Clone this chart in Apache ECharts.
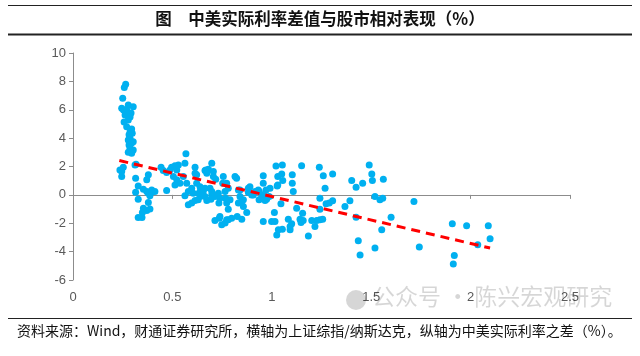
<!DOCTYPE html>
<html>
<head>
<meta charset="utf-8">
<script src="https://cdn.jsdelivr.net/npm/echarts@6/dist/echarts.min.js"></script>
<style>
html,body{margin:0;padding:0;background:#fff;}
#c{width:640px;height:356px;}
</style>
</head>
<body>
<div id="c"></div>
<script>
// Scatter data: x = 上证综指/纳斯达克, y = 中美实际利率之差（%）
var xVals = [
0.265,0.258,0.250,0.278,0.245,0.254,0.270,0.303,0.292,0.262,0.287,0.278,0.257,0.270,0.295,0.287,0.298,0.282,0.287,0.278,0.303,0.295,0.282,0.287,0.303,0.278,0.295,0.317,
0.236,0.245,0.253,0.245,0.312,0.315,0.328,0.379,0.371,0.315,0.354,0.371,0.379,0.396,0.412,0.395,0.387,0.328,0.379,0.354,0.371,0.387,0.349,0.328,0.347,0.443,0.454,0.471,0.471,
0.488,0.496,0.513,0.522,0.530,0.563,0.568,0.505,0.522,0.538,0.513,0.555,0.572,0.563,0.580,0.597,0.614,0.622,0.605,0.580,0.597,0.614,0.639,0.639,0.664,0.669,0.681,0.698,0.706,0.673,0.698,
0.714,0.736,0.748,0.765,0.773,0.756,0.753,0.765,0.781,0.790,0.815,0.823,0.798,0.826,0.849,0.840,0.849,0.857,0.874,0.882,0.890,0.899,0.937,
0.664,0.673,0.614,0.706,0.718,0.622,0.639,0.647,0.634,0.655,0.664,0.630,0.689,0.698,0.694,0.714,0.731,0.739,0.734,0.773,0.781,0.768,0.773,0.832,0.857,0.832,0.882,0.916,0.932,0.949,0.957,0.957,0.991,0.966,0.936,0.974,
1.021,1.053,1.030,1.050,1.030,1.103,1.103,0.739,0.781,0.957,0.999,1.016,1.013,1.033,1.053,1.025,1.046,1.083,1.100,1.092,
0.840,0.907,0.971,0.966,0.987,1.027,1.055,1.092,1.108,1.125,1.150,1.155,1.142,1.158,1.147,1.184,1.201,1.217,1.226,1.242,1.256,1.239,1.259,1.268,1.242,1.242,1.273,1.289,1.306,1.306,
1.368,1.393,1.402,1.424,1.424,1.457,1.435,1.444,1.490,1.503,1.506,1.561,1.519,1.544,1.558,1.519,1.600,1.553,1.715,1.742,1.908,1.980,1.918,1.913,2.036,2.089,2.098
];
var yVals = [
7.80,7.56,6.81,6.34,6.10,5.99,6.00,6.22,5.77,5.63,5.49,5.28,5.14,4.81,4.65,4.44,4.35,4.23,4.00,3.87,3.75,3.66,3.52,3.29,3.17,3.01,2.94,2.16,
1.76,1.64,1.95,1.29,2.11,1.18,0.63,1.41,1.06,0.19,0.40,0.23,0.12,0.35,0.23,0.19,-0.07,-0.30,-0.54,-0.94,-1.11,-1.00,-1.25,-1.60,-1.60,1.95,1.71,1.57,0.30,
1.76,1.95,2.06,1.76,2.11,2.23,2.89,1.29,1.06,0.82,0.70,1.29,0.82,-0.07,0.23,0.47,1.95,1.41,0.12,-0.70,-0.58,-0.40,-0.12,0.23,0.47,1.76,1.81,2.23,1.64,-0.40,0.00,
-1.81,-1.64,-2.11,-1.99,-1.76,1.29,0.82,0.23,-1.01,-0.35,1.29,1.18,-1.64,-1.53,-1.71,-0.12,-0.47,-0.82,-1.25,0.47,0.58,0.00,0.23,
1.71,1.53,1.53,1.29,1.11,0.82,0.58,0.35,0.12,0.23,-0.12,-0.35,0.47,0.23,-0.30,-0.12,0.12,-0.23,-0.58,0.82,0.47,-0.23,-0.58,0.35,-0.35,-0.58,0.16,0.23,0.35,0.00,1.34,0.82,0.47,-0.12,-0.35,-0.30,
2.04,2.11,1.29,1.48,0.70,1.41,0.82,-1.53,-1.76,-1.88,-1.88,-1.88,-1.25,-2.46,-2.42,-2.82,-0.63,-1.71,-2.04,-2.46,
0.35,0.00,0.35,-0.40,-0.12,0.63,1.01,-2.23,0.23,-0.94,2.06,-1.29,-1.71,-1.81,-1.95,-2.89,-1.81,-2.23,-1.81,-1.76,-1.71,1.95,1.34,0.47,-0.23,-1.01,-0.63,-0.58,-0.42,1.48,
-0.82,-0.42,1.01,0.54,-1.57,0.82,-3.24,-4.23,2.11,1.48,1.01,1.11,-0.12,-0.35,-0.23,-3.75,-1.57,-2.46,-0.47,-3.68,-2.04,-2.18,-4.27,-4.88,-3.52,-2.18,-3.10
];
// Linear trend line end points
var trendX = [0.233, 2.098];
var trendY = [2.42, -3.75];
// Axis ticks
var xTicks = [0, 0.5, 1, 1.5, 2, 2.5];
var yTicks = [-6, -4, -2, 0, 2, 4, 6, 8, 10];

var titleText = '图　中美实际利率差值与股市相对表现（%）';
var footText = '资料来源：Wind，财通证券研究所，横轴为上证综指/纳斯达克，纵轴为中美实际利率之差（%）。';
var watermark = '公众号 · 陈兴宏观研究';

var points = xVals.map(function (x, i) { return [x, yVals[i]]; });
var trend = trendX.map(function (x, i) { return [x, trendY[i]]; });

var chart = echarts.init(document.getElementById('c'), null, {renderer: 'canvas'});
var axisFont = {fontFamily: 'Liberation Sans, Arial, sans-serif', fontSize: 13, color: '#595959'};
chart.setOption({
  animation: false,
  backgroundColor: '#fff',
  grid: {left: 73, right: 70, top: 53, bottom: 76, containLabel: false},
  xAxis: [{
    type: 'value', min: xTicks[0], max: xTicks[xTicks.length - 1], interval: 0.5,
    position: 'bottom',
    axisLine: {show: true, onZero: true, lineStyle: {color: '#8c8c8c', width: 1}},
    axisTick: {show: true, length: 4, lineStyle: {color: '#8c8c8c'}},
    axisLabel: {show: false},
    splitLine: {show: false}
  }, {
    type: 'value', min: xTicks[0], max: xTicks[xTicks.length - 1], interval: 0.5,
    position: 'bottom',
    axisLine: {show: false, onZero: false},
    axisTick: {show: false},
    axisLabel: Object.assign({margin: 11}, axisFont),
    splitLine: {show: false}
  }],
  yAxis: {
    type: 'value', min: yTicks[0], max: yTicks[yTicks.length - 1], interval: 2,
    axisLine: {show: true, onZero: false, lineStyle: {color: '#8c8c8c', width: 1}},
    axisTick: {show: true, length: 4, lineStyle: {color: '#8c8c8c'}},
    axisLabel: Object.assign({margin: 7}, axisFont),
    splitLine: {show: false}
  },
  series: [{
    type: 'scatter',
    xAxisIndex: 0,
    data: points,
    symbol: 'circle',
    symbolSize: 7,
    itemStyle: {color: '#00b0f0', opacity: 1},
    z: 2
  }, {
    type: 'line',
    xAxisIndex: 0,
    data: trend,
    symbol: 'none',
    lineStyle: {color: '#ff0000', width: 3, type: [9, 6]},
    z: 3
  }],
  graphic: [
    {type: 'line', shape: {x1: 8, y1: 5.5, x2: 632, y2: 5.5}, style: {stroke: '#222', lineWidth: 1}},
    {type: 'text', left: 'center', top: 10, style: {text: titleText, font: 'bold 16.5px "Noto Sans CJK SC", sans-serif', fill: '#111'}},
    {type: 'line', shape: {x1: 8, y1: 34.5, x2: 632, y2: 34.5}, style: {stroke: '#222', lineWidth: 2}},
    {type: 'text', left: 372, top: 285, style: {text: watermark, font: '23px "Noto Sans CJK SC", sans-serif', fill: 'rgba(0,0,0,0.16)'}, z: 10},
    {type: 'circle', shape: {cx: 356, cy: 300, r: 10}, style: {fill: 'rgba(0,0,0,0.16)'}, z: 10},
    {type: 'line', shape: {x1: 8, y1: 318.5, x2: 632, y2: 318.5}, style: {stroke: '#222', lineWidth: 1}},
    {type: 'text', left: 17, top: 324, style: {text: footText, font: '14px "Noto Sans CJK SC", sans-serif', fill: '#111'}}
  ]
});
</script>
</body>
</html>
